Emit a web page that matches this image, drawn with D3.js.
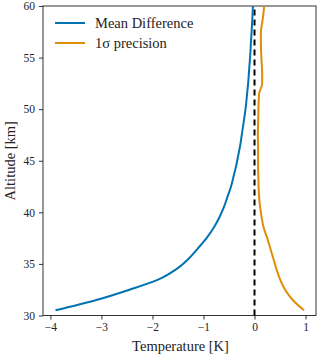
<!DOCTYPE html>
<html>
<head>
<meta charset="utf-8">
<script src="https://cdn.jsdelivr.net/npm/d3@7"></script>
<style>
  body { margin: 0; background: #fff; }
</style>
</head>
<body>
<div id="chart"></div>
<script>
// altitude levels [km]
var altitudes = [30.5, 31.5, 32.5, 33.5, 34.5, 35.5, 36.5, 37.5, 38.5, 39.5,
    40.5, 41.5, 42.5, 43.5, 44.5, 45.5, 46.5, 47.5, 48.5, 49.5,
    50.5, 51.5, 52.5, 53.5, 54.5, 55.5, 56.5, 57.5, 58.5, 59.5, 60];

// mean difference [K]
var meanDiff = [-3.9, -3.1, -2.45, -1.88, -1.53, -1.29, -1.11, -0.94, -0.8, -0.69,
    -0.6, -0.53, -0.46, -0.41, -0.36, -0.32, -0.28, -0.25, -0.22, -0.19,
    -0.165, -0.145, -0.125, -0.11, -0.095, -0.08, -0.07, -0.057, -0.046, -0.036, -0.03];

// 1 sigma precision [K]
var precision = [0.97, 0.75, 0.6, 0.5, 0.43, 0.37, 0.31, 0.25, 0.18, 0.14,
    0.11, 0.09, 0.08, 0.075, 0.07, 0.07, 0.07, 0.065, 0.07, 0.075,
    0.08, 0.09, 0.15, 0.15, 0.14, 0.13, 0.125, 0.125, 0.155, 0.18, 0.19];

var xTicks = [-4, -3, -2, -1, 0, 1];
var yTicks = [30, 35, 40, 45, 50, 55, 60];

var seriesNames = ['Mean Difference', '1\u03c3 precision'];
var seriesColors = ['#0173b2', '#de8f05'];

var font = '"Liberation Serif", "DejaVu Serif", serif';

var margin = {top: 6, right: 4, bottom: 41.5, left: 43},
    width = 320 - margin.left - margin.right,
    height = 357 - margin.top - margin.bottom;

var svg = d3.select('#chart').append('svg')
        .attr('width', 320)
        .attr('height', 357)
        .attr('font-family', font),
    g = svg.append('g')
        .attr('transform', 'translate(' + margin.left + ',' + margin.top + ')');

var x = d3.scaleLinear().domain([-4.145, 1.205]).range([0, width]);
var y = d3.scaleLinear().domain([30, 60]).range([height, 0]);

var fmt = function(d) { return d < 0 ? '\u2212' + Math.abs(d) : String(d); };

// axes
var xAxis = g.append('g')
    .attr('transform', 'translate(0,' + height + ')')
    .call(d3.axisBottom(x).tickValues(xTicks).tickFormat(fmt).tickSizeOuter(0).tickSize(4).tickPadding(3));
var yAxis = g.append('g')
    .call(d3.axisLeft(y).tickValues(yTicks).tickSizeOuter(0).tickSize(4).tickPadding(4));

[xAxis, yAxis].forEach(function(a) {
    a.attr('font-family', font).attr('font-size', 11.5);
    a.select('.domain').remove();
    a.selectAll('line').attr('stroke', '#333').attr('stroke-width', 1);
    a.selectAll('text').attr('fill', '#222');
});

// frame
g.append('rect')
    .attr('width', width)
    .attr('height', height)
    .attr('fill', 'none')
    .attr('stroke', '#333')
    .attr('stroke-width', 1);

// zero reference
g.append('line')
    .attr('x1', x(0)).attr('x2', x(0))
    .attr('y1', y(30)).attr('y2', y(60))
    .attr('stroke', '#000')
    .attr('stroke-width', 2)
    .attr('stroke-dasharray', '6,4');

var line = function(vals) {
    return d3.line()
        .x(function(d, i) { return x(vals[i]); })
        .y(function(d) { return y(d); })
        .curve(d3.curveMonotoneY)(altitudes);
};

[meanDiff, precision].forEach(function(vals, k) {
    g.append('path')
        .attr('d', line(vals))
        .attr('fill', 'none')
        .attr('stroke', seriesColors[k])
        .attr('stroke-width', 2);
});

// legend
var legend = g.append('g').attr('transform', 'translate(12,17)');
seriesNames.forEach(function(name, i) {
    legend.append('line')
        .attr('x1', 0).attr('x2', 30)
        .attr('y1', i * 20).attr('y2', i * 20)
        .attr('stroke', seriesColors[i])
        .attr('stroke-width', 2);
    legend.append('text')
        .attr('x', 40)
        .attr('y', i * 20)
        .attr('dy', '0.33em')
        .attr('font-size', 14.5)
        .attr('fill', '#222')
        .text(name);
});

// axis labels
svg.append('text')
    .attr('x', margin.left + x(-1.45))
    .attr('y', 351)
    .attr('text-anchor', 'middle')
    .attr('font-size', 14.5)
    .attr('fill', '#222')
    .text('Temperature [K]');

svg.append('text')
    .attr('transform', 'translate(15,' + (margin.top + y(45)) + ') rotate(-90)')
    .attr('text-anchor', 'middle')
    .attr('font-size', 14.5)
    .attr('fill', '#222')
    .text('Altitude [km]');
</script>
</body>
</html>
